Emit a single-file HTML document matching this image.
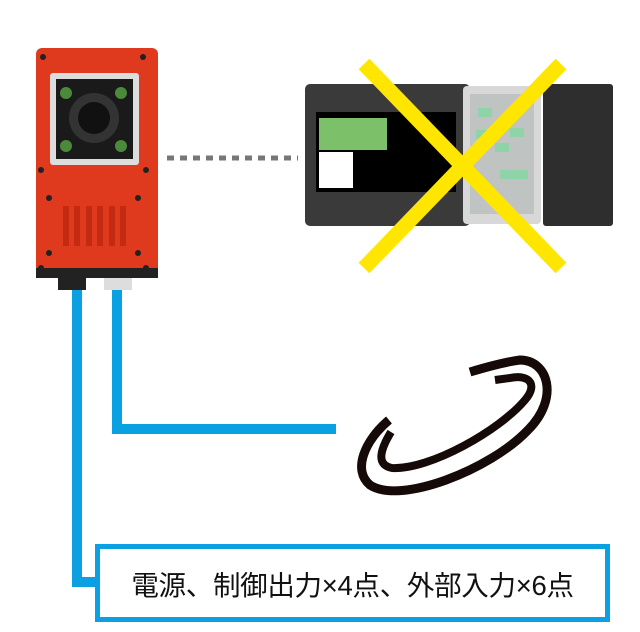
<!DOCTYPE html>
<html><head><meta charset="utf-8"><style>
html,body{margin:0;padding:0;background:#fff;width:640px;height:632px;overflow:hidden;position:relative}
.t{position:absolute;left:100px;top:548px;width:505px;height:70px;display:flex;align-items:center;justify-content:center;font:27.5px "Liberation Sans","Noto Sans CJK JP",sans-serif;color:#111;letter-spacing:-0.3px;white-space:nowrap}
</style></head><body>
<svg width="640" height="632" style="position:absolute;left:0;top:0">
<path d="M77 285 V582 H98" stroke="#0aa0e2" stroke-width="10" fill="none"/>
<path d="M117 285 V429 H336" stroke="#0aa0e2" stroke-width="10" fill="none"/>
<rect x="97.5" y="546.5" width="510" height="73" fill="none" stroke="#0aa0e2" stroke-width="5"/>
<rect x="58" y="276" width="28" height="14" fill="#222"/>
<rect x="104" y="276" width="28" height="14" fill="#ddd"/>
<rect x="36" y="48" width="122" height="228" rx="6" fill="#e03a1e"/>
<rect x="36" y="268" width="122" height="10" fill="#222"/>
<rect x="50" y="73" width="89" height="92" rx="3" fill="#ddd"/>
<rect x="56" y="79" width="77" height="80" fill="#1a1a1a"/>
<circle cx="94" cy="118" r="25" fill="#333"/>
<circle cx="94" cy="118" r="16" fill="#111"/>
<circle cx="66" cy="93" r="6" fill="#4a8a3a"/><circle cx="121" cy="93" r="6" fill="#4a8a3a"/>
<circle cx="66" cy="146" r="6" fill="#4a8a3a"/><circle cx="121" cy="146" r="6" fill="#4a8a3a"/>
<g fill="#222"><circle cx="43" cy="57" r="3"/><circle cx="143" cy="57" r="3"/><circle cx="41" cy="170" r="3"/><circle cx="146" cy="170" r="3"/><circle cx="49" cy="198" r="3"/><circle cx="138" cy="198" r="3"/><circle cx="49" cy="253" r="3"/><circle cx="138" cy="253" r="3"/><circle cx="41" cy="268" r="3"/><circle cx="146" cy="268" r="3"/></g>
<g fill="#c22a12"><rect x="63" y="206" width="6" height="40"/><rect x="74" y="206" width="6" height="40"/><rect x="86" y="206" width="6" height="40"/><rect x="97" y="206" width="6" height="40"/><rect x="109" y="206" width="6" height="40"/><rect x="120" y="206" width="6" height="40"/></g>
<line x1="167" y1="158" x2="298" y2="158" stroke="#777" stroke-width="5" stroke-dasharray="7,6"/>
<rect x="305" y="84" width="165" height="142" rx="5" fill="#3a3a3a"/>
<rect x="316" y="112" width="140" height="80" fill="#000"/>
<rect x="319" y="118" width="68" height="32" fill="#7cc06a"/>
<rect x="319" y="152" width="34" height="36" fill="#fff"/>
<rect x="463" y="86" width="78" height="138" rx="4" fill="#d8d8d8"/>
<rect x="470" y="94" width="64" height="120" fill="#bfc4c2"/>
<g fill="#8fd3a8"><rect x="478" y="108" width="14" height="9"/><rect x="510" y="128" width="14" height="9"/><rect x="495" y="143" width="14" height="9"/><rect x="500" y="170" width="28" height="9"/><rect x="476" y="130" width="16" height="9"/></g>
<rect x="543" y="84" width="70" height="142" rx="3" fill="#2e2e2e"/>
<line x1="364" y1="64" x2="561" y2="268" stroke="#ffe600" stroke-width="15"/>
<line x1="561" y1="64" x2="364" y2="268" stroke="#ffe600" stroke-width="15"/>
<g fill="none" stroke="#150a08" stroke-linecap="butt">
<path d="M389 420 C365 440 352 470 370 485 C400 505 490 470 528 430 C560 398 548 360 520 360 C505 362 490 366 470 372" stroke-width="9"/>
<path d="M391 432 C380 450 376 465 392 468 C430 470 500 430 525 400 C538 385 530 374 510 378 L495 380" stroke-width="8"/>
</g>
</svg>
<div class="t">電源、制御出力×4点、外部入力×6点</div>
</body></html>
